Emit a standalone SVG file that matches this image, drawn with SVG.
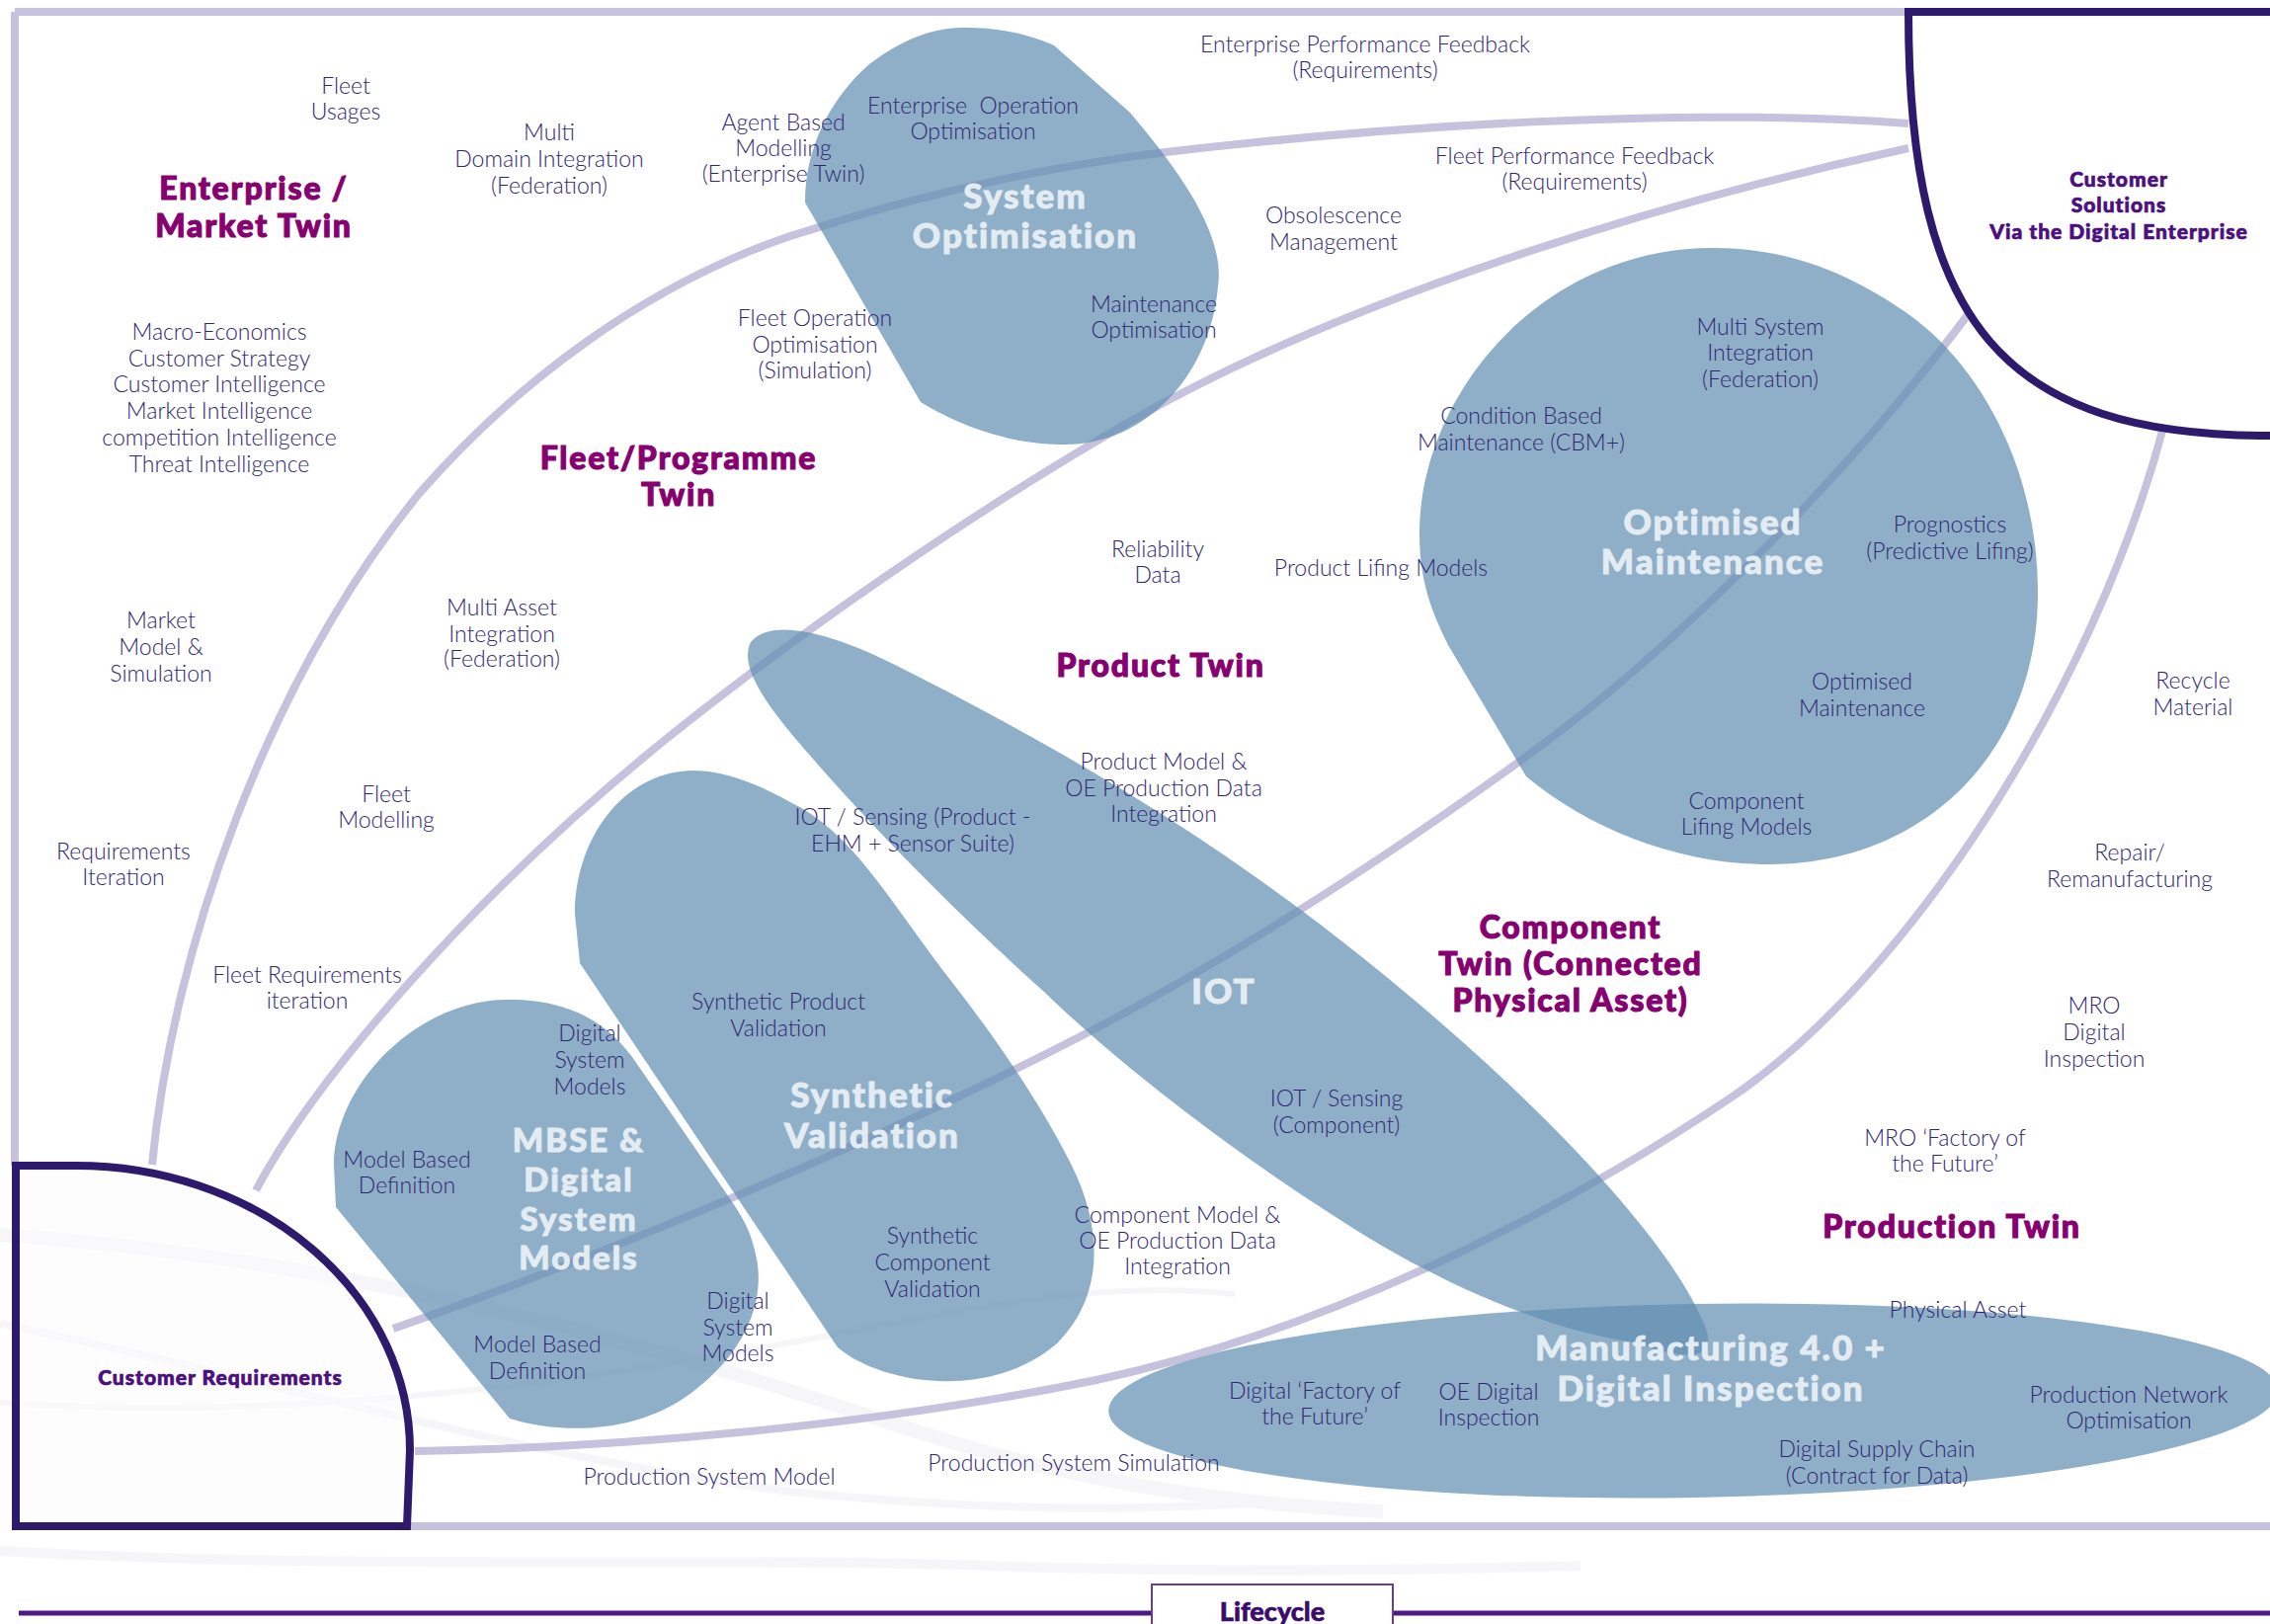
<svg xmlns="http://www.w3.org/2000/svg" width="2298" height="1644" viewBox="0 0 2298 1644">
<defs>
<style>
.t{font-family:Lato,"Liberation Sans",sans-serif;font-weight:300;font-size:23px;fill:#2f2672;text-anchor:middle}
.h{font-family:"Lato Black",Lato,"Liberation Sans",sans-serif;font-weight:900;font-size:32px;fill:#87006f;stroke:#87006f;stroke-width:1.1px;text-anchor:middle;letter-spacing:1.8px}
.bt{font-family:"Lato Black",Lato,"Liberation Sans",sans-serif;font-weight:900;font-size:35px;fill:#e4ecf3;stroke:#e4ecf3;stroke-width:0.9px;text-anchor:middle;letter-spacing:2px}
.c{font-family:"Lato Black",Lato,"Liberation Sans",sans-serif;font-weight:900;font-size:21px;fill:#4b0f7e;stroke:#4b0f7e;stroke-width:0.7px;text-anchor:middle;letter-spacing:1px}
.blob{fill:#628fb2;fill-opacity:0.714}
.arc{fill:none;stroke:#c6c1dc;stroke-width:8}
.navy{stroke:#2e1a6d;stroke-width:8}
.tex{fill:none;stroke:#ececf2}
</style>
</defs>
<rect width="2298" height="1644" fill="#ffffff"/>
<g id="texture" opacity="0.45">
<path class="tex" stroke-width="14" d="M0,1250 C300,1270 600,1340 900,1440 C1050,1490 1200,1520 1400,1530"/>
<path class="tex" stroke-width="8" d="M0,1340 C250,1390 500,1470 800,1510 C1000,1530 1150,1530 1300,1520"/>
<path class="tex" stroke-width="6" d="M0,1420 C300,1440 600,1400 900,1340 C1050,1310 1150,1300 1250,1310"/>
<path class="tex" stroke-width="10" d="M0,1570 C350,1590 700,1575 1000,1585 C1200,1592 1400,1590 1600,1585"/>
</g>
<g id="connectors">
<path class="arc" d="M15,12 H1932 M15,12 V1180 M412,1545 H2298"/>
<path id="arc-enterprise" class="arc" d="M154,1179 C175,960 270,690 424,500 C520,390 650,290 800,239 C920,200 1050,170 1180,154 C1400,128 1700,108 1932,125"/>
<path id="arc-fleet" class="arc" d="M259,1205 C320,1090 480,905 672,750 C800,647 980,520 1159,418 C1380,295 1700,200 1932,150"/>
<path id="arc-product" class="arc" d="M398,1345 C600,1275 880,1160 1098,1047 C1250,968 1400,870 1538,771 C1700,655 1880,470 1997,312"/>
<path id="arc-production" class="arc" d="M420,1469 C650,1465 900,1440 1110,1397 C1330,1350 1560,1240 1754,1110 C1930,990 2120,700 2191,429"/>
</g>
<g id="node-system-optimisation">
<path class="blob" d="M932,407 L815,205 C815,150 840,100 880,65 C920,35 950,28 978,28 C1020,28 1050,38 1067,46 L1144,114 C1200,180 1240,240 1233,290 C1225,380 1160,450 1078,450 C1020,450 970,430 932,407 Z"/>
<text class="bt"><tspan x="1038" y="211">System</tspan><tspan x="1038" y="251">Optimisation</tspan></text>
</g>
<g id="node-optimised-maintenance">
<path class="blob" d="M1466,653 L1545,786 C1610,840 1700,875 1790,875 C1950,875 2063,760 2063,600 C2063,470 2000,360 1920,310 C1860,270 1800,251 1734,251 C1560,251 1437,400 1437,540 C1437,590 1450,620 1466,653 Z"/>
<text class="bt"><tspan x="1734" y="541">Optimised</tspan><tspan x="1734" y="581">Maintenance</tspan></text>
</g>
<g id="node-iot">
<path class="blob" d="M760,650 C780,625 840,640 904,672 C1000,720 1110,780 1210,846 C1330,925 1440,1015 1530,1100 C1630,1195 1700,1280 1725,1340 C1740,1375 1715,1380 1653,1359 C1560,1345 1450,1295 1363,1239 C1250,1168 1130,1075 1057,1004 C980,935 890,845 828,774 C790,730 745,680 760,650 Z"/>
<text class="bt" x="1239" y="1016">IOT</text>
</g>
<g id="node-synthetic-validation">
<path class="blob" d="M587,975 L848,1364 C890,1400 1000,1420 1070,1360 C1120,1310 1115,1240 1085,1180 C1050,1110 1000,1040 955,983 C900,910 860,840 800,812 C760,790 730,780 700,780 C630,782 582,850 582,925 Z"/>
<text class="bt"><tspan x="883" y="1121">Synthetic</tspan><tspan x="883" y="1162">Validation</tspan></text>
</g>
<g id="node-mbse">
<path class="blob" d="M340,1222 L516,1436 C560,1450 640,1455 700,1410 C760,1365 775,1310 765,1270 C760,1245 750,1230 740,1215 L640,1070 C610,1030 570,1012 515,1012 C420,1012 338,1100 338,1180 Z"/>
<text class="bt" style="font-size:33px"><tspan x="586" y="1166">MBSE &amp;</tspan><tspan x="586" y="1206">Digital</tspan><tspan x="586" y="1246">System</tspan><tspan x="586" y="1285">Models</tspan></text>
</g>
<g id="node-manufacturing">
<ellipse class="blob" cx="1714" cy="1418" rx="592" ry="98" transform="rotate(-1 1714 1418)"/>
<text class="bt"><tspan x="1732" y="1377">Manufacturing 4.0 +</tspan><tspan x="1732" y="1418">Digital Inspection</tspan></text>
</g>
<g id="node-customer-solutions">
<path class="navy" fill="#ffffff" d="M2298,12 H1932 C1932,330 2030,441 2298,441"/>
<text class="c"><tspan x="2145" y="189">Customer</tspan><tspan x="2145" y="215">Solutions</tspan><tspan x="2145" y="242">Via the Digital Enterprise</tspan></text>
</g>
<g id="node-customer-requirements">
<path class="navy" fill="#fbfbfd" fill-opacity="0.6" d="M16,1545 V1180 L77,1180 A338,288 0 0 1 415,1468 L412,1545 Z"/>
<text class="c" x="223" y="1402">Customer Requirements</text>
</g>
<g id="twin-labels">
<text class="h"><tspan x="257" y="202">Enterprise /</tspan><tspan x="257" y="240">Market Twin</tspan></text>
<text class="h"><tspan x="687" y="475">Fleet/Programme</tspan><tspan x="687" y="512">Twin</tspan></text>
<text class="h" x="1175" y="685">Product Twin</text>
<text class="h"><tspan x="1590" y="950">Component</tspan><tspan x="1590" y="987">Twin (Connected</tspan><tspan x="1590" y="1024">Physical Asset)</tspan></text>
<text class="h" x="1976" y="1253">Production Twin</text>
</g>
<g id="items">
<text class="t"><tspan x="350" y="95">Fleet</tspan><tspan x="350" y="121">Usages</tspan></text>
<text class="t"><tspan x="556" y="142">Multi</tspan><tspan x="556" y="169">Domain Integration</tspan><tspan x="556" y="196">(Federation)</tspan></text>
<text class="t"><tspan x="222" y="344">Macro-Economics</tspan><tspan x="222" y="371">Customer Strategy</tspan><tspan x="222" y="397">Customer Intelligence</tspan><tspan x="222" y="424">Market Intelligence</tspan><tspan x="222" y="451">competition Intelligence</tspan><tspan x="222" y="478">Threat Intelligence</tspan></text>
<text class="t"><tspan x="793" y="132">Agent Based</tspan><tspan x="793" y="158">Modelling</tspan><tspan x="793" y="184">(Enterprise Twin)</tspan></text>
<text class="t" style="white-space:pre"><tspan x="985" y="115">Enterprise  Operation</tspan><tspan x="985" y="141">Optimisation</tspan></text>
<text class="t"><tspan x="825" y="330">Fleet Operation</tspan><tspan x="825" y="357">Optimisation</tspan><tspan x="825" y="383">(Simulation)</tspan></text>
<text class="t"><tspan x="1168" y="316">Maintenance</tspan><tspan x="1168" y="342">Optimisation</tspan></text>
<text class="t"><tspan x="1382" y="53">Enterprise Performance Feedback</tspan><tspan x="1382" y="79">(Requirements)</tspan></text>
<text class="t"><tspan x="1350" y="226">Obsolescence</tspan><tspan x="1350" y="253">Management</tspan></text>
<text class="t"><tspan x="1594" y="166">Fleet Performance Feedback</tspan><tspan x="1594" y="192">(Requirements)</tspan></text>
<text class="t"><tspan x="1782" y="339">Multi System</tspan><tspan x="1782" y="365">Integration</tspan><tspan x="1782" y="392">(Federation)</tspan></text>
<text class="t"><tspan x="1540" y="429">Condition Based</tspan><tspan x="1540" y="456">Maintenance (CBM+)</tspan></text>
<text class="t"><tspan x="1974" y="539">Prognostics</tspan><tspan x="1974" y="566">(Predictive Lifing)</tspan></text>
<text class="t" x="1398" y="583">Product Lifing Models</text>
<text class="t"><tspan x="1172" y="564">Reliability</tspan><tspan x="1172" y="590">Data</tspan></text>
<text class="t"><tspan x="1885" y="698">Optimised</tspan><tspan x="1885" y="725">Maintenance</tspan></text>
<text class="t"><tspan x="1768" y="819">Component</tspan><tspan x="1768" y="845">Lifing Models</tspan></text>
<text class="t"><tspan x="2220" y="697">Recycle</tspan><tspan x="2220" y="724">Material</tspan></text>
<text class="t"><tspan x="2156" y="871">Repair/</tspan><tspan x="2156" y="898">Remanufacturing</tspan></text>
<text class="t"><tspan x="2120" y="1026">MRO</tspan><tspan x="2120" y="1053">Digital</tspan><tspan x="2120" y="1080">Inspection</tspan></text>
<text class="t"><tspan x="1969" y="1160">MRO ‘Factory of</tspan><tspan x="1969" y="1186">the Future’</tspan></text>
<text class="t" x="1982" y="1334">Physical Asset</text>
<text class="t"><tspan x="2155" y="1420">Production Network</tspan><tspan x="2155" y="1446">Optimisation</tspan></text>
<text class="t"><tspan x="1900" y="1475">Digital Supply Chain</tspan><tspan x="1900" y="1502">(Contract for Data)</tspan></text>
<text class="t"><tspan x="1507" y="1417">OE Digital</tspan><tspan x="1507" y="1443">Inspection</tspan></text>
<text class="t"><tspan x="1331" y="1416">Digital ‘Factory of</tspan><tspan x="1331" y="1442">the Future’</tspan></text>
<text class="t" x="1087" y="1489">Production System Simulation</text>
<text class="t" x="718" y="1503">Production System Model</text>
<text class="t"><tspan x="1192" y="1238">Component Model &amp;</tspan><tspan x="1192" y="1264">OE Production Data</tspan><tspan x="1192" y="1290">Integration</tspan></text>
<text class="t"><tspan x="944" y="1259">Synthetic</tspan><tspan x="944" y="1286">Component</tspan><tspan x="944" y="1313">Validation</tspan></text>
<text class="t"><tspan x="788" y="1022">Synthetic Product</tspan><tspan x="788" y="1049">Validation</tspan></text>
<text class="t"><tspan x="924" y="835">IOT / Sensing (Product -</tspan><tspan x="924" y="862">EHM + Sensor Suite)</tspan></text>
<text class="t"><tspan x="1178" y="779">Product Model &amp;</tspan><tspan x="1178" y="806">OE Production Data</tspan><tspan x="1178" y="832">Integration</tspan></text>
<text class="t"><tspan x="1353" y="1120">IOT / Sensing</tspan><tspan x="1353" y="1147">(Component)</tspan></text>
<text class="t"><tspan x="508" y="623">Multi Asset</tspan><tspan x="508" y="650">Integration</tspan><tspan x="508" y="675">(Federation)</tspan></text>
<text class="t"><tspan x="163" y="636">Market</tspan><tspan x="163" y="663">Model &amp;</tspan><tspan x="163" y="690">Simulation</tspan></text>
<text class="t"><tspan x="125" y="870">Requirements</tspan><tspan x="125" y="896">Iteration</tspan></text>
<text class="t"><tspan x="391" y="812">Fleet</tspan><tspan x="391" y="838">Modelling</tspan></text>
<text class="t"><tspan x="311" y="995">Fleet Requirements</tspan><tspan x="311" y="1021">iteration</tspan></text>
<text class="t"><tspan x="597" y="1054">Digital</tspan><tspan x="597" y="1081">System</tspan><tspan x="597" y="1108">Models</tspan></text>
<text class="t"><tspan x="412" y="1182">Model Based</tspan><tspan x="412" y="1208">Definition</tspan></text>
<text class="t"><tspan x="544" y="1369">Model Based</tspan><tspan x="544" y="1396">Definition</tspan></text>
<text class="t"><tspan x="747" y="1325">Digital</tspan><tspan x="747" y="1352">System</tspan><tspan x="747" y="1378">Models</tspan></text>
</g>
<g id="lifecycle">
<path d="M19,1633 H2298" stroke="#4d1a85" stroke-width="5" fill="none"/>
<rect x="1166" y="1604" width="244" height="60" fill="#ffffff" stroke="#6a3c9a" stroke-width="2"/>
<text x="1288" y="1641" font-family="'Lato Black', Lato, 'Liberation Sans', sans-serif" font-weight="900" font-size="27" fill="#3a0b6a" stroke="#3a0b6a" stroke-width="0.6" text-anchor="middle">Lifecycle</text>
</g>
</svg>
